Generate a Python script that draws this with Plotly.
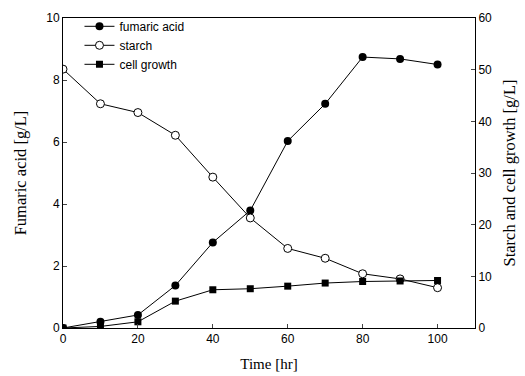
import plotly.graph_objects as go

time = [0, 10, 20, 30, 40, 50, 60, 70, 80, 90, 100]
fumaric_acid = [0.0, 0.2, 0.42, 1.37, 2.76, 3.79, 6.03, 7.23, 8.74, 8.68, 8.5]
starch = [50.1, 43.4, 41.7, 37.3, 29.2, 21.3, 15.4, 13.5, 10.5, 9.5, 7.8]
cell_growth = [0.0, 0.3, 1.2, 5.2, 7.4, 7.6, 8.1, 8.7, 9.0, 9.1, 9.2]

x_ticks = [0, 20, 40, 60, 80, 100]
left_ticks = [0, 2, 4, 6, 8, 10]
right_ticks = [0, 10, 20, 30, 40, 50, 60]

sans = "Liberation Sans, Arial, sans-serif"
serif = "Liberation Serif, Times New Roman, serif"

fig = go.Figure()
fig.add_trace(go.Scatter(
    x=time, y=fumaric_acid, name="fumaric acid", mode="lines+markers",
    line=dict(color="black", width=1),
    marker=dict(symbol="circle", size=8, color="black"),
    yaxis="y"))
fig.add_trace(go.Scatter(
    x=time, y=starch, name="starch", mode="lines+markers",
    line=dict(color="black", width=1),
    marker=dict(symbol="circle", size=8, color="white", line=dict(color="black", width=1)),
    yaxis="y2"))
fig.add_trace(go.Scatter(
    x=time, y=cell_growth, name="cell growth", mode="lines+markers",
    line=dict(color="black", width=1),
    marker=dict(symbol="square", size=7, color="black"),
    yaxis="y2"))

fig.update_layout(
    width=525, height=376,
    margin=dict(l=63, r=50, t=15, b=48),
    paper_bgcolor="white", plot_bgcolor="white",
    font=dict(family=sans, size=12, color="black"),
    showlegend=True,
    legend=dict(x=0.04, y=1.02, xanchor="left", yanchor="top",
                bgcolor="rgba(0,0,0,0)", font=dict(family=sans, size=12),
                itemwidth=30, tracegroupgap=0),
    xaxis=dict(range=[0, 110], tickvals=x_ticks, ticks="inside", ticklen=4,
               showline=True, linecolor="black", linewidth=1, mirror=True,
               showgrid=False, zeroline=False, automargin=False,
               tickfont=dict(family=sans, size=12),
               title=dict(text="Time [hr]", font=dict(family=serif, size=15), standoff=13)),
    yaxis=dict(range=[0, 10], tickvals=left_ticks, ticks="inside", ticklen=4,
               showline=True, linecolor="black", linewidth=1,
               showgrid=False, zeroline=False, automargin=False,
               tickfont=dict(family=sans, size=12),
               title=dict(text="Fumaric acid [g/L]", font=dict(family=serif, size=16.5), standoff=15)),
    yaxis2=dict(range=[0, 60], tickvals=right_ticks, ticks="inside", ticklen=4,
                overlaying="y", side="right",
                showline=True, linecolor="black", linewidth=1,
                showgrid=False, zeroline=False, automargin=False,
                tickfont=dict(family=sans, size=12),
                title=dict(text="Starch and cell growth [g/L]", font=dict(family=serif, size=16.5), standoff=12)),
)

fig.write_html("out.html")
